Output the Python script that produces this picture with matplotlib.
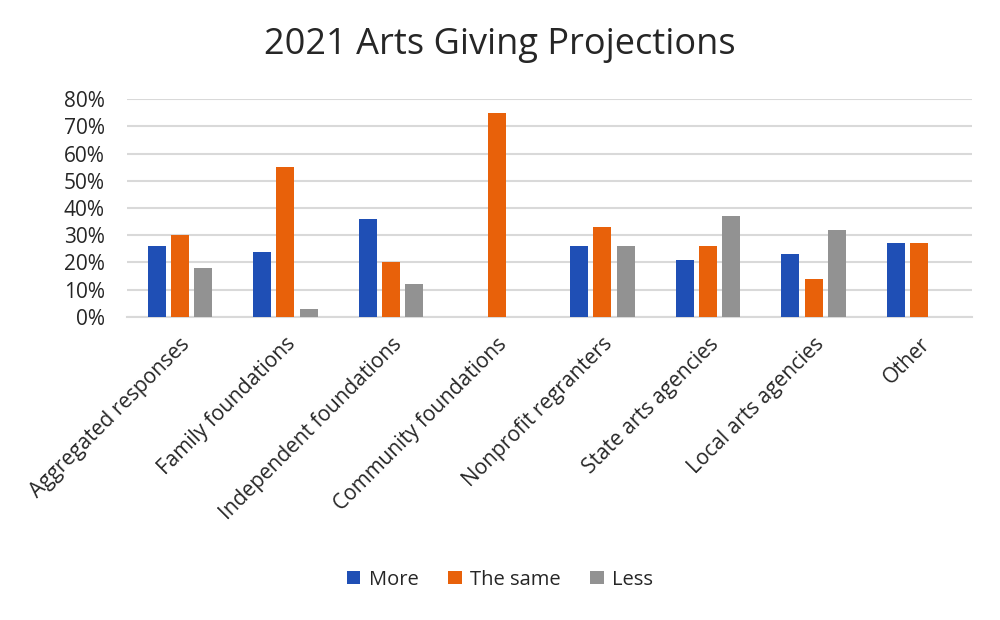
import matplotlib
matplotlib.use("Agg")
import matplotlib.pyplot as plt
import numpy as np
from matplotlib.ticker import PercentFormatter

plt.rcParams['font.family'] = ['Open Sans', 'DejaVu Sans']

# Survey categories and share of responses (percent)
categories = ['Aggregated responses', 'Family foundations', 'Independent foundations',
              'Community foundations', 'Nonprofit regranters', 'State arts agencies',
              'Local arts agencies', 'Other']
more = [26, 24, 36, 0, 26, 21, 23, 27]
same = [30, 55, 20, 75, 33, 26, 14, 27]
less = [18, 3, 12, 0, 26, 37, 32, 0]

series = ['More', 'The same', 'Less']
colors = ['#1F4FB5', '#E8610A', '#929292']

fig = plt.figure(figsize=(10, 6.2), dpi=100)
ax = fig.add_axes([0.127, 0.489, 0.845, 0.351])

x = np.arange(len(categories))
width = 0.17
step = 0.22
for i, (vals, name, c) in enumerate(zip([more, same, less], series, colors)):
    ax.bar(x + (i - 1) * step, vals, width, color=c, label=name, zorder=3)

ax.set_xlim(-0.5, len(categories) - 0.5)
ax.set_ylim(0, 80)
ax.set_yticks(range(0, 81, 10))
ax.yaxis.set_major_formatter(PercentFormatter(decimals=0))
ax.grid(axis='y', color='#D9D9D9', linewidth=1.5, zorder=0)
for s in ['top', 'right', 'left']:
    ax.spines[s].set_visible(False)
ax.spines['bottom'].set_color('#D9D9D9')
ax.spines['bottom'].set_linewidth(1.5)

ax.set_xticks(x)
ax.set_xticklabels(categories, rotation=45, ha='right', rotation_mode='anchor',
                   fontsize=15, color='#262626')
ax.tick_params(axis='both', length=0)
ax.tick_params(axis='x', pad=12)
ax.tick_params(axis='y', labelsize=15, labelcolor='#262626', pad=16)

fig.text(0.5, 0.927, '2021 Arts Giving Projections', ha='center', va='center',
         fontsize=26, color='#262626')

fig.legend(loc='center', bbox_to_anchor=(0.5, 0.065), ncol=3, frameon=False,
           fontsize=14.5, handlelength=0.65, handleheight=0.65, columnspacing=1.5,
           handletextpad=0.4, labelcolor='#262626')

fig.savefig('out.png', dpi=100)
